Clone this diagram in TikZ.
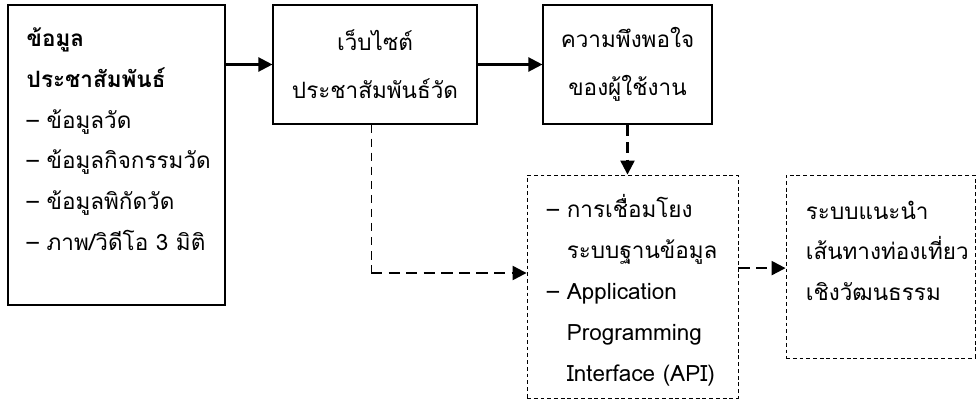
\documentclass[tikz,border=0pt]{standalone}
\usepackage{fontspec}
\newfontfamily\thaifont[Script=Thai]{Loma}
\usetikzlibrary{arrows.meta}

\begin{document}
\begin{tikzpicture}[
		box/.style={draw, line width=0.8pt, inner sep=0pt},
		dbox/.style={draw, line width=0.6pt, dash pattern=on 2.8pt off 2pt, inner sep=0pt},
		txt/.style={font=\thaifont\fontsize{16}{29}\selectfont},
		wide/.style={font=\thaifont\fontsize{16}{34}\selectfont},
		link/.style={line width=1.6pt, -{Triangle[length=10pt,width=10pt]}},
		dlink/.style={link, dash pattern=on 8pt off 4.5pt}
	]
	\useasboundingbox (0,0) rectangle (24.45,-10.1);
	% frames
	\node [box, minimum width=5.425cm, minimum height=7.5cm] (info) at (2.9125,-3.875) {};
	\node [box, wide, align=center, minimum width=5.1cm, minimum height=2.975cm] (site) at (9.375,-1.6125) {เว็บไซต์\\ประชาสัมพันธ์วัด};
	\node [box, wide, align=center, minimum width=4.225cm, minimum height=2.975cm] (sat) at (15.6875,-1.6125) {ความพึงพอใจ\\ของผู้ใช้งาน};
	\node [dbox, minimum width=5.275cm, minimum height=5.575cm] (api) at (15.8125,-7.1625) {};
	\node [dbox, minimum width=4.725cm, minimum height=4.575cm] (route) at (22.0125,-6.6625) {};
	% texts
	\node [txt, inner sep=0pt, anchor=north west, align=left] (infotxt) at ([shift={(0.475,-0.575)}]info.north west)
		{\textbf{ข้อมูล}\\\textbf{ประชาสัมพันธ์}\\– ข้อมูลวัด\\– ข้อมูลกิจกรรมวัด\\– ข้อมูลพิกัดวัด\\– ภาพ/วิดีโอ 3 มิติ};
	\node [txt, inner sep=0pt, anchor=north west, align=left] (apitxt) at ([shift={(0.5,-0.5)}]api.north west)
		{– การเชื่อมโยง\\\phantom{– }ระบบฐานข้อมูล\\– Application\\\phantom{– }Programming\\\phantom{– }Interface (API)};
	\node [txt, inner sep=0pt, anchor=north west, align=left] (routetxt) at ([shift={(0.5,-0.65)}]route.north west)
		{ระบบแนะนำ\\เส้นทางท่องเที่ยว\\เชิงวัฒนธรรม};
	% connectors
	\coordinate (bend) at ([xshift=-1mm]site.south |- 0,-6.825);
	\draw [link] (site.west -| info.east) -- (site.west);
	\draw [link] (site) -- (sat);
	\draw [dlink] (sat.south) -- (sat.south |- api.north);
	\draw [line width=0.7pt, dash pattern=on 6pt off 4pt] ([xshift=-1mm]site.south) -- (bend);
	\draw [dlink] (bend) -- (bend -| api.west);
	\draw [dlink] ([yshift=4.6mm]api.east) -- ([yshift=4.6mm]api.east -| route.west);
\end{tikzpicture}
\end{document}
